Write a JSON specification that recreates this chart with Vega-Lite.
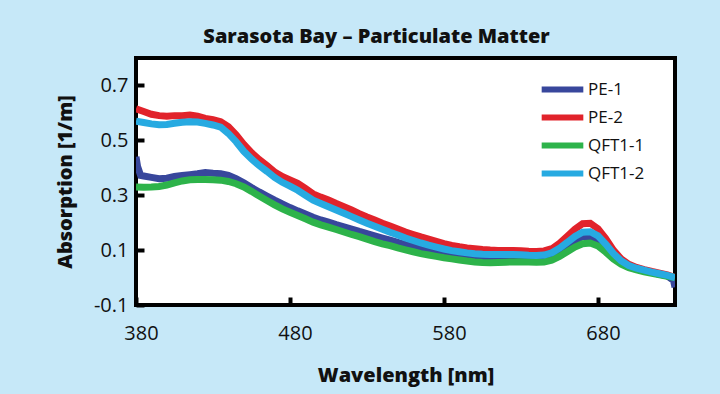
{
  "$schema": "https://vega.github.io/schema/vega-lite/v6.json",
  "width": 539,
  "height": 247,
  "autosize": {"type": "none"},
  "padding": {"left": 136, "top": 58, "right": 45, "bottom": 89},
  "background": "#c6e8f8",
  "title": {
    "text": "Sarasota Bay – Particulate Matter",
    "font": "Open Sans",
    "fontSize": 20,
    "fontWeight": 800,
    "color": "#111111",
    "anchor": "middle",
    "dx": -29,
    "offset": 11
  },
  "config": {
    "view": {"fill": "white", "stroke": "black", "strokeWidth": 4},
    "axis": {
      "domain": false,
      "grid": false,
      "ticks": true,
      "tickColor": "black",
      "tickWidth": 4,
      "tickSize": -8,
      "labelFont": "Open Sans",
      "labelFontSize": 20,
      "labelColor": "#111111",
      "titleFont": "Open Sans",
      "titleFontSize": 20,
      "titleFontWeight": 800,
      "titleColor": "#111111"
    }
  },
  "data": {
    "values": [
      {"wavelength": 380, "sample": "PE-1", "absorption": 0.44},
      {"wavelength": 381, "sample": "PE-1", "absorption": 0.405},
      {"wavelength": 383, "sample": "PE-1", "absorption": 0.372},
      {"wavelength": 385, "sample": "PE-1", "absorption": 0.37},
      {"wavelength": 390, "sample": "PE-1", "absorption": 0.365},
      {"wavelength": 395, "sample": "PE-1", "absorption": 0.36},
      {"wavelength": 400, "sample": "PE-1", "absorption": 0.362},
      {"wavelength": 405, "sample": "PE-1", "absorption": 0.368},
      {"wavelength": 410, "sample": "PE-1", "absorption": 0.372},
      {"wavelength": 415, "sample": "PE-1", "absorption": 0.375},
      {"wavelength": 420, "sample": "PE-1", "absorption": 0.378},
      {"wavelength": 425, "sample": "PE-1", "absorption": 0.383},
      {"wavelength": 430, "sample": "PE-1", "absorption": 0.38},
      {"wavelength": 435, "sample": "PE-1", "absorption": 0.378},
      {"wavelength": 440, "sample": "PE-1", "absorption": 0.372},
      {"wavelength": 445, "sample": "PE-1", "absorption": 0.36},
      {"wavelength": 450, "sample": "PE-1", "absorption": 0.345},
      {"wavelength": 455, "sample": "PE-1", "absorption": 0.328},
      {"wavelength": 460, "sample": "PE-1", "absorption": 0.312},
      {"wavelength": 465, "sample": "PE-1", "absorption": 0.297},
      {"wavelength": 470, "sample": "PE-1", "absorption": 0.282},
      {"wavelength": 475, "sample": "PE-1", "absorption": 0.268},
      {"wavelength": 480, "sample": "PE-1", "absorption": 0.255},
      {"wavelength": 485, "sample": "PE-1", "absorption": 0.243},
      {"wavelength": 490, "sample": "PE-1", "absorption": 0.232},
      {"wavelength": 495, "sample": "PE-1", "absorption": 0.22},
      {"wavelength": 500, "sample": "PE-1", "absorption": 0.21},
      {"wavelength": 505, "sample": "PE-1", "absorption": 0.202},
      {"wavelength": 510, "sample": "PE-1", "absorption": 0.193},
      {"wavelength": 515, "sample": "PE-1", "absorption": 0.185},
      {"wavelength": 520, "sample": "PE-1", "absorption": 0.177},
      {"wavelength": 525, "sample": "PE-1", "absorption": 0.168},
      {"wavelength": 530, "sample": "PE-1", "absorption": 0.16},
      {"wavelength": 535, "sample": "PE-1", "absorption": 0.152},
      {"wavelength": 540, "sample": "PE-1", "absorption": 0.144},
      {"wavelength": 545, "sample": "PE-1", "absorption": 0.136},
      {"wavelength": 550, "sample": "PE-1", "absorption": 0.128},
      {"wavelength": 555, "sample": "PE-1", "absorption": 0.12},
      {"wavelength": 560, "sample": "PE-1", "absorption": 0.113},
      {"wavelength": 565, "sample": "PE-1", "absorption": 0.106},
      {"wavelength": 570, "sample": "PE-1", "absorption": 0.1},
      {"wavelength": 575, "sample": "PE-1", "absorption": 0.094},
      {"wavelength": 580, "sample": "PE-1", "absorption": 0.089},
      {"wavelength": 585, "sample": "PE-1", "absorption": 0.085},
      {"wavelength": 590, "sample": "PE-1", "absorption": 0.081},
      {"wavelength": 595, "sample": "PE-1", "absorption": 0.078},
      {"wavelength": 600, "sample": "PE-1", "absorption": 0.076},
      {"wavelength": 605, "sample": "PE-1", "absorption": 0.074},
      {"wavelength": 610, "sample": "PE-1", "absorption": 0.073},
      {"wavelength": 615, "sample": "PE-1", "absorption": 0.074},
      {"wavelength": 620, "sample": "PE-1", "absorption": 0.075},
      {"wavelength": 625, "sample": "PE-1", "absorption": 0.076},
      {"wavelength": 630, "sample": "PE-1", "absorption": 0.076},
      {"wavelength": 635, "sample": "PE-1", "absorption": 0.075},
      {"wavelength": 640, "sample": "PE-1", "absorption": 0.074},
      {"wavelength": 645, "sample": "PE-1", "absorption": 0.075},
      {"wavelength": 650, "sample": "PE-1", "absorption": 0.08},
      {"wavelength": 655, "sample": "PE-1", "absorption": 0.095},
      {"wavelength": 660, "sample": "PE-1", "absorption": 0.115},
      {"wavelength": 665, "sample": "PE-1", "absorption": 0.135},
      {"wavelength": 670, "sample": "PE-1", "absorption": 0.149},
      {"wavelength": 675, "sample": "PE-1", "absorption": 0.15},
      {"wavelength": 680, "sample": "PE-1", "absorption": 0.138},
      {"wavelength": 685, "sample": "PE-1", "absorption": 0.112},
      {"wavelength": 690, "sample": "PE-1", "absorption": 0.08},
      {"wavelength": 695, "sample": "PE-1", "absorption": 0.058},
      {"wavelength": 700, "sample": "PE-1", "absorption": 0.042},
      {"wavelength": 705, "sample": "PE-1", "absorption": 0.032},
      {"wavelength": 710, "sample": "PE-1", "absorption": 0.025},
      {"wavelength": 715, "sample": "PE-1", "absorption": 0.018},
      {"wavelength": 720, "sample": "PE-1", "absorption": 0.012},
      {"wavelength": 725, "sample": "PE-1", "absorption": 0.006},
      {"wavelength": 729, "sample": "PE-1", "absorption": -0.01},
      {"wavelength": 730, "sample": "PE-1", "absorption": -0.035},

      {"wavelength": 380, "sample": "PE-2", "absorption": 0.615},
      {"wavelength": 385, "sample": "PE-2", "absorption": 0.605},
      {"wavelength": 390, "sample": "PE-2", "absorption": 0.595},
      {"wavelength": 395, "sample": "PE-2", "absorption": 0.59},
      {"wavelength": 400, "sample": "PE-2", "absorption": 0.588},
      {"wavelength": 405, "sample": "PE-2", "absorption": 0.59},
      {"wavelength": 410, "sample": "PE-2", "absorption": 0.59},
      {"wavelength": 415, "sample": "PE-2", "absorption": 0.592},
      {"wavelength": 420, "sample": "PE-2", "absorption": 0.588},
      {"wavelength": 425, "sample": "PE-2", "absorption": 0.58},
      {"wavelength": 430, "sample": "PE-2", "absorption": 0.575},
      {"wavelength": 435, "sample": "PE-2", "absorption": 0.568},
      {"wavelength": 440, "sample": "PE-2", "absorption": 0.55},
      {"wavelength": 445, "sample": "PE-2", "absorption": 0.52},
      {"wavelength": 450, "sample": "PE-2", "absorption": 0.485},
      {"wavelength": 455, "sample": "PE-2", "absorption": 0.455},
      {"wavelength": 460, "sample": "PE-2", "absorption": 0.43},
      {"wavelength": 465, "sample": "PE-2", "absorption": 0.408},
      {"wavelength": 470, "sample": "PE-2", "absorption": 0.385},
      {"wavelength": 475, "sample": "PE-2", "absorption": 0.368},
      {"wavelength": 480, "sample": "PE-2", "absorption": 0.356},
      {"wavelength": 485, "sample": "PE-2", "absorption": 0.343},
      {"wavelength": 490, "sample": "PE-2", "absorption": 0.325},
      {"wavelength": 495, "sample": "PE-2", "absorption": 0.305},
      {"wavelength": 500, "sample": "PE-2", "absorption": 0.293},
      {"wavelength": 505, "sample": "PE-2", "absorption": 0.283},
      {"wavelength": 510, "sample": "PE-2", "absorption": 0.27},
      {"wavelength": 515, "sample": "PE-2", "absorption": 0.258},
      {"wavelength": 520, "sample": "PE-2", "absorption": 0.246},
      {"wavelength": 525, "sample": "PE-2", "absorption": 0.233},
      {"wavelength": 530, "sample": "PE-2", "absorption": 0.221},
      {"wavelength": 535, "sample": "PE-2", "absorption": 0.21},
      {"wavelength": 540, "sample": "PE-2", "absorption": 0.198},
      {"wavelength": 545, "sample": "PE-2", "absorption": 0.188},
      {"wavelength": 550, "sample": "PE-2", "absorption": 0.177},
      {"wavelength": 555, "sample": "PE-2", "absorption": 0.166},
      {"wavelength": 560, "sample": "PE-2", "absorption": 0.157},
      {"wavelength": 565, "sample": "PE-2", "absorption": 0.148},
      {"wavelength": 570, "sample": "PE-2", "absorption": 0.14},
      {"wavelength": 575, "sample": "PE-2", "absorption": 0.132},
      {"wavelength": 580, "sample": "PE-2", "absorption": 0.124},
      {"wavelength": 585, "sample": "PE-2", "absorption": 0.117},
      {"wavelength": 590, "sample": "PE-2", "absorption": 0.112},
      {"wavelength": 595, "sample": "PE-2", "absorption": 0.108},
      {"wavelength": 600, "sample": "PE-2", "absorption": 0.105},
      {"wavelength": 605, "sample": "PE-2", "absorption": 0.102},
      {"wavelength": 610, "sample": "PE-2", "absorption": 0.1},
      {"wavelength": 615, "sample": "PE-2", "absorption": 0.099},
      {"wavelength": 620, "sample": "PE-2", "absorption": 0.099},
      {"wavelength": 625, "sample": "PE-2", "absorption": 0.099},
      {"wavelength": 630, "sample": "PE-2", "absorption": 0.098},
      {"wavelength": 635, "sample": "PE-2", "absorption": 0.096},
      {"wavelength": 640, "sample": "PE-2", "absorption": 0.095},
      {"wavelength": 645, "sample": "PE-2", "absorption": 0.097},
      {"wavelength": 650, "sample": "PE-2", "absorption": 0.105},
      {"wavelength": 655, "sample": "PE-2", "absorption": 0.125},
      {"wavelength": 660, "sample": "PE-2", "absorption": 0.15},
      {"wavelength": 665, "sample": "PE-2", "absorption": 0.176},
      {"wavelength": 670, "sample": "PE-2", "absorption": 0.196},
      {"wavelength": 675, "sample": "PE-2", "absorption": 0.198},
      {"wavelength": 680, "sample": "PE-2", "absorption": 0.178},
      {"wavelength": 685, "sample": "PE-2", "absorption": 0.142},
      {"wavelength": 690, "sample": "PE-2", "absorption": 0.1},
      {"wavelength": 695, "sample": "PE-2", "absorption": 0.068},
      {"wavelength": 700, "sample": "PE-2", "absorption": 0.048},
      {"wavelength": 705, "sample": "PE-2", "absorption": 0.037},
      {"wavelength": 710, "sample": "PE-2", "absorption": 0.029},
      {"wavelength": 715, "sample": "PE-2", "absorption": 0.022},
      {"wavelength": 720, "sample": "PE-2", "absorption": 0.016},
      {"wavelength": 725, "sample": "PE-2", "absorption": 0.01},
      {"wavelength": 730, "sample": "PE-2", "absorption": 0.0},

      {"wavelength": 380, "sample": "QFT1-1", "absorption": 0.33},
      {"wavelength": 385, "sample": "QFT1-1", "absorption": 0.329},
      {"wavelength": 390, "sample": "QFT1-1", "absorption": 0.33},
      {"wavelength": 395, "sample": "QFT1-1", "absorption": 0.332},
      {"wavelength": 400, "sample": "QFT1-1", "absorption": 0.337},
      {"wavelength": 405, "sample": "QFT1-1", "absorption": 0.345},
      {"wavelength": 410, "sample": "QFT1-1", "absorption": 0.352},
      {"wavelength": 415, "sample": "QFT1-1", "absorption": 0.356},
      {"wavelength": 420, "sample": "QFT1-1", "absorption": 0.357},
      {"wavelength": 425, "sample": "QFT1-1", "absorption": 0.357},
      {"wavelength": 430, "sample": "QFT1-1", "absorption": 0.356},
      {"wavelength": 435, "sample": "QFT1-1", "absorption": 0.355},
      {"wavelength": 440, "sample": "QFT1-1", "absorption": 0.35},
      {"wavelength": 445, "sample": "QFT1-1", "absorption": 0.342},
      {"wavelength": 450, "sample": "QFT1-1", "absorption": 0.33},
      {"wavelength": 455, "sample": "QFT1-1", "absorption": 0.314},
      {"wavelength": 460, "sample": "QFT1-1", "absorption": 0.297},
      {"wavelength": 465, "sample": "QFT1-1", "absorption": 0.281},
      {"wavelength": 470, "sample": "QFT1-1", "absorption": 0.265},
      {"wavelength": 475, "sample": "QFT1-1", "absorption": 0.25},
      {"wavelength": 480, "sample": "QFT1-1", "absorption": 0.238},
      {"wavelength": 485, "sample": "QFT1-1", "absorption": 0.226},
      {"wavelength": 490, "sample": "QFT1-1", "absorption": 0.214},
      {"wavelength": 495, "sample": "QFT1-1", "absorption": 0.202},
      {"wavelength": 500, "sample": "QFT1-1", "absorption": 0.192},
      {"wavelength": 505, "sample": "QFT1-1", "absorption": 0.184},
      {"wavelength": 510, "sample": "QFT1-1", "absorption": 0.175},
      {"wavelength": 515, "sample": "QFT1-1", "absorption": 0.166},
      {"wavelength": 520, "sample": "QFT1-1", "absorption": 0.157},
      {"wavelength": 525, "sample": "QFT1-1", "absorption": 0.149},
      {"wavelength": 530, "sample": "QFT1-1", "absorption": 0.14},
      {"wavelength": 535, "sample": "QFT1-1", "absorption": 0.131},
      {"wavelength": 540, "sample": "QFT1-1", "absorption": 0.123},
      {"wavelength": 545, "sample": "QFT1-1", "absorption": 0.116},
      {"wavelength": 550, "sample": "QFT1-1", "absorption": 0.108},
      {"wavelength": 555, "sample": "QFT1-1", "absorption": 0.101},
      {"wavelength": 560, "sample": "QFT1-1", "absorption": 0.094},
      {"wavelength": 565, "sample": "QFT1-1", "absorption": 0.087},
      {"wavelength": 570, "sample": "QFT1-1", "absorption": 0.082},
      {"wavelength": 575, "sample": "QFT1-1", "absorption": 0.077},
      {"wavelength": 580, "sample": "QFT1-1", "absorption": 0.072},
      {"wavelength": 585, "sample": "QFT1-1", "absorption": 0.068},
      {"wavelength": 590, "sample": "QFT1-1", "absorption": 0.064},
      {"wavelength": 595, "sample": "QFT1-1", "absorption": 0.06},
      {"wavelength": 600, "sample": "QFT1-1", "absorption": 0.057},
      {"wavelength": 605, "sample": "QFT1-1", "absorption": 0.055},
      {"wavelength": 610, "sample": "QFT1-1", "absorption": 0.054},
      {"wavelength": 615, "sample": "QFT1-1", "absorption": 0.055},
      {"wavelength": 620, "sample": "QFT1-1", "absorption": 0.056},
      {"wavelength": 625, "sample": "QFT1-1", "absorption": 0.057},
      {"wavelength": 630, "sample": "QFT1-1", "absorption": 0.058},
      {"wavelength": 635, "sample": "QFT1-1", "absorption": 0.057},
      {"wavelength": 640, "sample": "QFT1-1", "absorption": 0.056},
      {"wavelength": 645, "sample": "QFT1-1", "absorption": 0.057},
      {"wavelength": 650, "sample": "QFT1-1", "absorption": 0.063},
      {"wavelength": 655, "sample": "QFT1-1", "absorption": 0.077},
      {"wavelength": 660, "sample": "QFT1-1", "absorption": 0.094},
      {"wavelength": 665, "sample": "QFT1-1", "absorption": 0.111},
      {"wavelength": 670, "sample": "QFT1-1", "absorption": 0.123},
      {"wavelength": 675, "sample": "QFT1-1", "absorption": 0.126},
      {"wavelength": 680, "sample": "QFT1-1", "absorption": 0.115},
      {"wavelength": 685, "sample": "QFT1-1", "absorption": 0.093},
      {"wavelength": 690, "sample": "QFT1-1", "absorption": 0.068},
      {"wavelength": 695, "sample": "QFT1-1", "absorption": 0.049},
      {"wavelength": 700, "sample": "QFT1-1", "absorption": 0.036},
      {"wavelength": 705, "sample": "QFT1-1", "absorption": 0.028},
      {"wavelength": 710, "sample": "QFT1-1", "absorption": 0.021},
      {"wavelength": 715, "sample": "QFT1-1", "absorption": 0.015},
      {"wavelength": 720, "sample": "QFT1-1", "absorption": 0.01},
      {"wavelength": 725, "sample": "QFT1-1", "absorption": 0.005},
      {"wavelength": 730, "sample": "QFT1-1", "absorption": 0.0},

      {"wavelength": 380, "sample": "QFT1-2", "absorption": 0.57},
      {"wavelength": 385, "sample": "QFT1-2", "absorption": 0.565},
      {"wavelength": 390, "sample": "QFT1-2", "absorption": 0.56},
      {"wavelength": 395, "sample": "QFT1-2", "absorption": 0.557},
      {"wavelength": 400, "sample": "QFT1-2", "absorption": 0.558},
      {"wavelength": 405, "sample": "QFT1-2", "absorption": 0.562},
      {"wavelength": 410, "sample": "QFT1-2", "absorption": 0.566},
      {"wavelength": 415, "sample": "QFT1-2", "absorption": 0.568},
      {"wavelength": 420, "sample": "QFT1-2", "absorption": 0.567},
      {"wavelength": 425, "sample": "QFT1-2", "absorption": 0.562},
      {"wavelength": 430, "sample": "QFT1-2", "absorption": 0.556},
      {"wavelength": 435, "sample": "QFT1-2", "absorption": 0.548},
      {"wavelength": 440, "sample": "QFT1-2", "absorption": 0.525},
      {"wavelength": 445, "sample": "QFT1-2", "absorption": 0.495},
      {"wavelength": 450, "sample": "QFT1-2", "absorption": 0.46},
      {"wavelength": 455, "sample": "QFT1-2", "absorption": 0.432},
      {"wavelength": 460, "sample": "QFT1-2", "absorption": 0.408},
      {"wavelength": 465, "sample": "QFT1-2", "absorption": 0.387},
      {"wavelength": 470, "sample": "QFT1-2", "absorption": 0.365},
      {"wavelength": 475, "sample": "QFT1-2", "absorption": 0.347},
      {"wavelength": 480, "sample": "QFT1-2", "absorption": 0.333},
      {"wavelength": 485, "sample": "QFT1-2", "absorption": 0.318},
      {"wavelength": 490, "sample": "QFT1-2", "absorption": 0.3},
      {"wavelength": 495, "sample": "QFT1-2", "absorption": 0.282},
      {"wavelength": 500, "sample": "QFT1-2", "absorption": 0.27},
      {"wavelength": 505, "sample": "QFT1-2", "absorption": 0.258},
      {"wavelength": 510, "sample": "QFT1-2", "absorption": 0.246},
      {"wavelength": 515, "sample": "QFT1-2", "absorption": 0.234},
      {"wavelength": 520, "sample": "QFT1-2", "absorption": 0.222},
      {"wavelength": 525, "sample": "QFT1-2", "absorption": 0.21},
      {"wavelength": 530, "sample": "QFT1-2", "absorption": 0.198},
      {"wavelength": 535, "sample": "QFT1-2", "absorption": 0.187},
      {"wavelength": 540, "sample": "QFT1-2", "absorption": 0.176},
      {"wavelength": 545, "sample": "QFT1-2", "absorption": 0.165},
      {"wavelength": 550, "sample": "QFT1-2", "absorption": 0.155},
      {"wavelength": 555, "sample": "QFT1-2", "absorption": 0.144},
      {"wavelength": 560, "sample": "QFT1-2", "absorption": 0.135},
      {"wavelength": 565, "sample": "QFT1-2", "absorption": 0.126},
      {"wavelength": 570, "sample": "QFT1-2", "absorption": 0.118},
      {"wavelength": 575, "sample": "QFT1-2", "absorption": 0.111},
      {"wavelength": 580, "sample": "QFT1-2", "absorption": 0.104},
      {"wavelength": 585, "sample": "QFT1-2", "absorption": 0.098},
      {"wavelength": 590, "sample": "QFT1-2", "absorption": 0.094},
      {"wavelength": 595, "sample": "QFT1-2", "absorption": 0.09},
      {"wavelength": 600, "sample": "QFT1-2", "absorption": 0.087},
      {"wavelength": 605, "sample": "QFT1-2", "absorption": 0.085},
      {"wavelength": 610, "sample": "QFT1-2", "absorption": 0.084},
      {"wavelength": 615, "sample": "QFT1-2", "absorption": 0.084},
      {"wavelength": 620, "sample": "QFT1-2", "absorption": 0.084},
      {"wavelength": 625, "sample": "QFT1-2", "absorption": 0.084},
      {"wavelength": 630, "sample": "QFT1-2", "absorption": 0.083},
      {"wavelength": 635, "sample": "QFT1-2", "absorption": 0.081},
      {"wavelength": 640, "sample": "QFT1-2", "absorption": 0.08},
      {"wavelength": 645, "sample": "QFT1-2", "absorption": 0.082},
      {"wavelength": 650, "sample": "QFT1-2", "absorption": 0.09},
      {"wavelength": 655, "sample": "QFT1-2", "absorption": 0.107},
      {"wavelength": 660, "sample": "QFT1-2", "absorption": 0.128},
      {"wavelength": 665, "sample": "QFT1-2", "absorption": 0.15},
      {"wavelength": 670, "sample": "QFT1-2", "absorption": 0.165},
      {"wavelength": 675, "sample": "QFT1-2", "absorption": 0.167},
      {"wavelength": 680, "sample": "QFT1-2", "absorption": 0.152},
      {"wavelength": 685, "sample": "QFT1-2", "absorption": 0.122},
      {"wavelength": 690, "sample": "QFT1-2", "absorption": 0.088},
      {"wavelength": 695, "sample": "QFT1-2", "absorption": 0.061},
      {"wavelength": 700, "sample": "QFT1-2", "absorption": 0.044},
      {"wavelength": 705, "sample": "QFT1-2", "absorption": 0.034},
      {"wavelength": 710, "sample": "QFT1-2", "absorption": 0.027},
      {"wavelength": 715, "sample": "QFT1-2", "absorption": 0.02},
      {"wavelength": 720, "sample": "QFT1-2", "absorption": 0.014},
      {"wavelength": 725, "sample": "QFT1-2", "absorption": 0.008},
      {"wavelength": 730, "sample": "QFT1-2", "absorption": 0.0}
    ]
  },
  "mark": {"type": "line", "strokeWidth": 7, "clip": true},
  "encoding": {
    "x": {
      "field": "wavelength",
      "type": "quantitative",
      "scale": {"domain": [380, 730], "nice": false, "zero": false},
      "axis": {
        "title": "Wavelength [nm]",
        "values": [380, 480, 580, 680],
        "labelFlush": false,
        "labelPadding": 26,
        "labelOffset": 5,
        "titlePadding": 22
      }
    },
    "y": {
      "field": "absorption",
      "type": "quantitative",
      "scale": {"domain": [-0.1, 0.8], "nice": false, "zero": false},
      "axis": {
        "title": "Absorption [1/m]",
        "values": [-0.1, 0.1, 0.3, 0.5, 0.7],
        "format": ".1f",
        "labelExpr": "replace(datum.label, '−', '-')",
        "labelPadding": 16,
        "titlePadding": 18
      }
    },
    "color": {
      "field": "sample",
      "type": "nominal",
      "scale": {
        "domain": ["PE-1", "PE-2", "QFT1-1", "QFT1-2"],
        "range": ["#38479c", "#e1232b", "#2db34a", "#27aae1"]
      },
      "legend": {
        "title": null,
        "orient": "none",
        "legendX": 411,
        "legendY": 16,
        "padding": 0,
        "rowPadding": 0,
        "symbolType": "M-1.7,0H1.7",
        "symbolSize": 600,
        "symbolStrokeWidth": 6,
        "labelFont": "Open Sans",
        "labelFontSize": 17,
        "labelColor": "#111111",
        "labelOffset": 10
      }
    }
  }
}
